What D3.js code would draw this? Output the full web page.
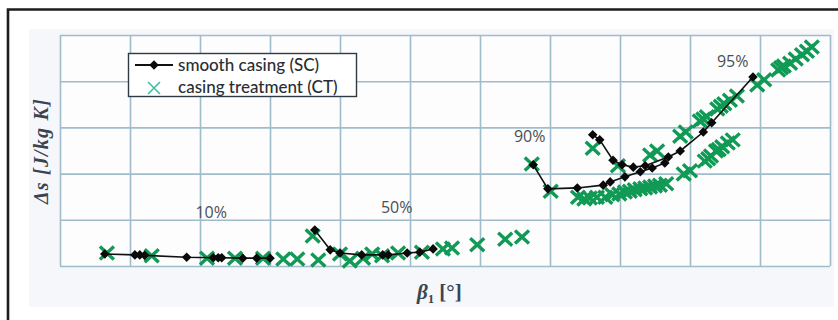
<!DOCTYPE html>
<html>
<head>
<meta charset="utf-8">
<script src="https://cdn.jsdelivr.net/npm/d3@7"></script>
<style>
  html, body { margin: 0; padding: 0; background: #ffffff; }
  svg { display: block; }
</style>
</head>
<body>
<svg id="chart" width="838" height="320"></svg>
<script>
// Entropy rise over inlet flow angle, smooth casing vs casing treatment

// Smooth casing (SC) speed lines: [beta1, delta s]
const sc10 = [[6.4,2.6],[10.7,2.4],[11.4,2.4],[12.1,2.3],[18.1,1.9],[21.9,1.8],[22.6,1.8],[23.1,1.8],[26.1,1.7],[28.1,1.7],[30.0,1.7]];
const sc50 = [[36.4,7.8],[38.6,3.5],[40.0,2.8],[43.1,2.4],[46.1,2.4],[46.9,2.4],[49.6,2.8],[51.4,3.0],[53.3,3.7]];
const sc90 = [[67.6,21.9],[69.7,16.7],[73.9,16.9],[77.6,17.5],[78.6,18.2],[80.7,19.3],[82.9,20.4],[84.6,21.2],[86.4,22.3]];
const sc95 = [[76.1,28.4],[77.1,27.3],[79.0,22.9],[80.3,21.9],[81.9,21.4],[83.6,21.7],[86.9,23.6],[88.6,24.9],[91.9,29.0],[93.1,31.0],[99.0,40.9]];
const scLines = [sc10, sc50, sc90, sc95];

// Casing treatment (CT) operating points
const ctLow = [[6.7,2.8],[13.1,2.2],[21.0,1.7],[25.0,1.7],[29.0,1.7],[31.9,1.5],[33.9,1.5],[36.9,1.3],[36.1,6.5],[40.0,2.6],[41.4,1.1],[43.3,1.7],[44.6,2.6],[46.0,2.2],[48.3,2.8],[51.7,3.0],[54.7,3.7],[56.0,3.9],[59.6,4.6],[63.6,5.8],[66.0,6.3]];
const ctBand = [[67.4,22.1],[70.1,16.2],[74.0,14.9],[74.9,14.5],[75.7,14.7],[76.7,14.9],[77.9,14.9],[78.9,15.4],[79.9,15.6],[80.7,16.0],[81.4,16.2],[82.1,16.5],[82.9,16.7],[83.6,16.9],[84.3,17.1],[85.0,17.3],[85.7,17.5],[86.6,17.8],[89.1,19.9],[90.0,20.6],[92.1,22.7],[92.6,23.2],[93.0,23.8],[93.7,24.9],[94.1,25.2],[94.6,25.8],[95.4,26.6],[96.1,27.3]];
const ctUpper = [[76.1,25.5],[79.7,21.7],[84.3,24.0],[85.3,24.9],[88.6,28.1],[89.4,29.0],[91.4,31.4],[91.9,31.8],[92.4,32.3],[93.9,34.0],[94.4,34.6],[94.9,35.1],[95.7,35.9],[96.7,36.8],[99.6,39.2],[100.6,40.3],[102.6,42.4],[103.0,42.9],[103.4,43.3],[104.3,43.9],[105.1,44.8],[106.0,45.7],[106.7,46.5],[107.4,47.4]];
const ctPoints = ctLow.concat(ctBand, ctUpper);

// Speed labels: [text, beta1, delta s]
const speedLabels = [["10%", 21.6, 10.3], ["50%", 48.1, 11.5], ["90%", 67.1, 26.8], ["95%", 96.1, 43.1]];

// Axis ranges and grid steps (no tick labels are drawn)
const xDomain = [0, 110];
const yDomain = [0, 50];
const xGrid = d3.range(0, 111, 10);
const yGrid = d3.range(0, 51, 10);

const legendItems = ["smooth casing (SC)", "casing treatment (CT)"];
const xTitle = "β";
const yTitle = "Δs [J/kg K]";

const svg = d3.select("#chart");
const plot = { left: 60, right: 830, top: 35, bottom: 266 };

const x = d3.scaleLinear().domain(xDomain).range([plot.left, plot.right]);
const y = d3.scaleLinear().domain(yDomain).range([plot.bottom, plot.top]);

const green = "#109a55";
const gridColor = "#9fbccb";

// outer frame and panel
svg.append("rect").attr("x", 29).attr("y", 29).attr("width", 805).attr("height", 278).attr("fill", "#f6f7fa");
svg.append("path").attr("d", "M8,320V9.5H838").attr("fill", "none").attr("stroke", "#1c1c1c").attr("stroke-width", 2.6);
svg.append("rect").attr("x", plot.left).attr("y", plot.top)
  .attr("width", plot.right - plot.left).attr("height", plot.bottom - plot.top)
  .attr("fill", "#fdfdfe");

// grid via axes with full-length ticks
const gx = svg.append("g").attr("transform", `translate(0,${plot.bottom})`)
  .call(d3.axisBottom(x).tickValues(xGrid).tickSize(-(plot.bottom - plot.top)).tickFormat(""));
const gy = svg.append("g").attr("transform", `translate(${plot.left},0)`)
  .call(d3.axisLeft(y).tickValues(yGrid).tickSize(-(plot.right - plot.left)).tickFormat(""));
[gx, gy].forEach(g => {
  g.select(".domain").remove();
  g.selectAll(".tick line").attr("stroke", gridColor).attr("stroke-width", 1.6);
});

// CT crosses
const cross = "M-7,-6.5L7,6.5M-7,6.5L7,-6.5";
svg.append("g").selectAll("path").data(ctPoints).join("path")
  .attr("transform", d => `translate(${x(d[0])},${y(d[1])})`)
  .attr("d", cross)
  .attr("fill", "none").attr("stroke", green).attr("stroke-width", 3.4);

// SC lines with diamonds
const line = d3.line().x(d => x(d[0])).y(d => y(d[1]));
const diamond = d3.symbol().type(d3.symbolSquare).size(46);
scLines.forEach(s => {
  svg.append("path").datum(s).attr("d", line)
    .attr("fill", "none").attr("stroke", "#111").attr("stroke-width", 1.6);
  svg.append("g").selectAll("path").data(s).join("path")
    .attr("transform", d => `translate(${x(d[0])},${y(d[1])}) rotate(45)`)
    .attr("d", diamond).attr("fill", "#0a0a0a");
});

// speed labels
svg.append("g").selectAll("text").data(speedLabels).join("text")
  .attr("x", d => x(d[1])).attr("y", d => y(d[2]))
  .attr("text-anchor", "middle")
  .attr("font-family", "'Open Sans', Lato, sans-serif").attr("font-size", 16)
  .attr("fill", "#4a4f56")
  .text(d => d[0]);

// legend
const lg = svg.append("g");
lg.append("rect").attr("x", 128.5).attr("y", 53.5).attr("width", 228).attr("height", 43)
  .attr("fill", "#ffffff").attr("stroke", "#2e3a44").attr("stroke-width", 1.4);
lg.append("line").attr("x1", 135).attr("x2", 173).attr("y1", 65).attr("y2", 65)
  .attr("stroke", "#111").attr("stroke-width", 2);
lg.append("path").attr("transform", "translate(154,65) rotate(45)").attr("d", diamond).attr("fill", "#0a0a0a");
lg.append("path").attr("transform", "translate(154,88)").attr("d", "M-6,-6L6,6M-6,6L6,-6")
  .attr("fill", "none").attr("stroke", "#3cc0a4").attr("stroke-width", 1.6);
lg.selectAll("text").data(legendItems).join("text")
  .attr("x", 178).attr("y", (d, i) => 71 + i * 22)
  .attr("font-family", "Lato, 'Open Sans', sans-serif").attr("font-size", 17)
  .attr("font-weight", 500)
  .attr("fill", "#2a2e33")
  .text(d => d);

// axis titles
const xt = svg.append("text").attr("x", 417).attr("y", 299)
  .attr("font-family", "'Liberation Serif', 'DejaVu Serif', serif").attr("font-size", 21)
  .attr("font-weight", "bold").attr("fill", "#3a4350");
xt.append("tspan").attr("font-style", "italic").text(xTitle);
xt.append("tspan").attr("font-size", 13).attr("dy", 4).text("1");
xt.append("tspan").attr("dy", -4).attr("dx", 5).text("[°]");

svg.append("text")
  .attr("transform", "translate(48,151) rotate(-90)")
  .attr("text-anchor", "middle")
  .attr("font-family", "'Liberation Serif', 'DejaVu Serif', serif").attr("font-size", 20)
  .attr("font-style", "italic").attr("font-weight", "bold").attr("fill", "#3a4350")
  .attr("letter-spacing", 1.2)
  .text(yTitle);
</script>
</body>
</html>
